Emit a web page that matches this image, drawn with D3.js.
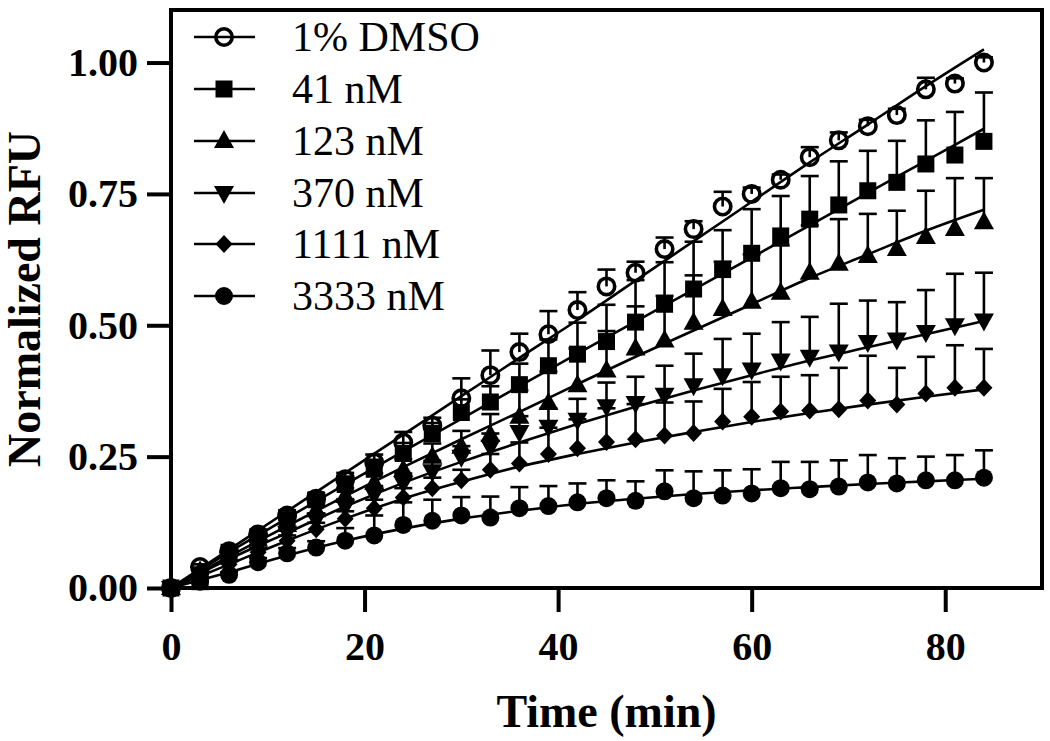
<!DOCTYPE html>
<html><head><meta charset="utf-8">
<script src="https://cdn.jsdelivr.net/npm/d3@7"></script>
<style>body{margin:0;background:#fff} svg{display:block}</style>
</head><body><svg id="c" width="1050" height="741"></svg>
<script>
// ---- data ----
const times = [0,3,6,9,12,15,18,21,24,27,30,33,36,39,42,45,48,51,54,57,60,63,66,69,72,75,78,81,84];
const seriesNames = ["1% DMSO","41 nM","123 nM","370 nM","1111 nM","3333 nM"];

const valDMSO = [0,0.04,0.07,0.102,0.138,0.17,0.207,0.239,0.277,0.309,0.361,0.405,0.449,0.483,0.529,0.574,0.6,0.645,0.683,0.726,0.75,0.777,0.82,0.852,0.879,0.9,0.949,0.96,1.0];
const errDMSO = [0,0.005,0.005,0.008,0.01,0.01,0.012,0.015,0.02,0.015,0.038,0.047,0.035,0.044,0.034,0.032,0.021,0.022,0.015,0.028,0.012,0.01,0.019,0.015,0.012,0.012,0.022,0.01,0.01];

const val41 = [0,0.012,0.068,0.098,0.13,0.168,0.197,0.226,0.256,0.294,0.334,0.354,0.387,0.423,0.445,0.469,0.506,0.54,0.569,0.606,0.637,0.67,0.702,0.729,0.756,0.772,0.807,0.824,0.85];
const err41 = [0,0.005,0.006,0.008,0.01,0.012,0.015,0.018,0.02,0.02,0.025,0.03,0.04,0.05,0.06,0.07,0.08,0.08,0.09,0.075,0.084,0.076,0.082,0.083,0.076,0.079,0.083,0.082,0.093];

const val123 = [0,0.032,0.063,0.092,0.12,0.148,0.175,0.2,0.225,0.25,0.269,0.291,0.326,0.352,0.386,0.414,0.456,0.471,0.505,0.531,0.545,0.562,0.6,0.617,0.632,0.645,0.668,0.683,0.696];
const err123 = [0,0.005,0.006,0.008,0.01,0.012,0.015,0.018,0.02,0.025,0.03,0.04,0.05,0.06,0.07,0.075,0.08,0.085,0.09,0.09,0.09,0.09,0.09,0.085,0.08,0.073,0.088,0.097,0.084];

const val370 = [0,0.028,0.055,0.08,0.105,0.13,0.155,0.178,0.2,0.222,0.25,0.269,0.297,0.307,0.32,0.346,0.352,0.368,0.386,0.405,0.416,0.433,0.44,0.45,0.468,0.473,0.487,0.5,0.509];
const err370 = [0,0.005,0.006,0.008,0.01,0.012,0.014,0.016,0.018,0.02,0.02,0.025,0.03,0.035,0.04,0.045,0.05,0.055,0.06,0.069,0.068,0.073,0.076,0.091,0.079,0.071,0.08,0.098,0.091];

const val1111 = [0,0.022,0.045,0.068,0.09,0.112,0.132,0.152,0.172,0.19,0.205,0.225,0.237,0.255,0.266,0.278,0.283,0.29,0.295,0.317,0.326,0.336,0.338,0.34,0.357,0.349,0.37,0.381,0.381];
const err1111 = [0,0.005,0.006,0.008,0.01,0.012,0.014,0.016,0.018,0.02,0.02,0.03,0.04,0.05,0.055,0.064,0.067,0.063,0.06,0.062,0.066,0.066,0.067,0.079,0.085,0.07,0.07,0.081,0.074];

const val3333 = [0,0.012,0.025,0.049,0.066,0.077,0.09,0.1,0.12,0.128,0.138,0.134,0.152,0.156,0.163,0.171,0.166,0.184,0.171,0.176,0.18,0.19,0.188,0.193,0.201,0.199,0.205,0.205,0.21];
const err3333 = [0,0.005,0.005,0.008,0.01,0.012,0.024,0.038,0.043,0.04,0.035,0.04,0.04,0.038,0.036,0.034,0.037,0.04,0.051,0.048,0.046,0.05,0.052,0.05,0.052,0.048,0.045,0.048,0.052];

// fitted curves, read at these times
const fitTimes = [0,6,12,18,24,30,36,42,48,54,60,66,72,78,84];
const fitDMSO = [0,0.073,0.146,0.219,0.292,0.365,0.438,0.51,0.585,0.66,0.735,0.81,0.882,0.955,1.025];
const fit41   = [0,0.068,0.133,0.197,0.26,0.322,0.384,0.446,0.507,0.568,0.629,0.69,0.752,0.813,0.874];
const fit123  = [0,0.06,0.118,0.175,0.23,0.283,0.335,0.388,0.44,0.49,0.54,0.59,0.635,0.68,0.72];
const fit370  = [0,0.055,0.105,0.155,0.2,0.24,0.277,0.312,0.345,0.376,0.405,0.433,0.458,0.483,0.508];
const fit1111 = [0,0.045,0.09,0.132,0.17,0.202,0.231,0.255,0.277,0.297,0.316,0.333,0.349,0.364,0.378];
const fit3333 = [0,0.03,0.062,0.09,0.113,0.132,0.147,0.16,0.17,0.179,0.186,0.192,0.198,0.203,0.208];

const xTicks = [0,20,40,60,80];
const yTicks = [0,0.25,0.5,0.75,1.0];
const xTitle = "Time (min)";
const yTitle = "Normalized RFU";

// ---- layout ----
const svg = d3.select("#c");
const L = 171, R = 1042, T = 10, B = 588;
const x = d3.scaleLinear().domain([0, 90]).range([L, R]);
const y = d3.scaleLinear().domain([0, 1.1]).range([B, T]);
const serif = "'Liberation Serif','Times New Roman',Times,serif";

const series = [
  {name: seriesNames[0], v: valDMSO, e: errDMSO, f: fitDMSO, m: "ocircle"},
  {name: seriesNames[1], v: val41, e: err41, f: fit41, m: "square"},
  {name: seriesNames[2], v: val123, e: err123, f: fit123, m: "tup"},
  {name: seriesNames[3], v: val370, e: err370, f: fit370, m: "tdown"},
  {name: seriesNames[4], v: val1111, e: err1111, f: fit1111, m: "diamond"},
  {name: seriesNames[5], v: val3333, e: err3333, f: fit3333, m: "fcircle"}
];

function marker(g, type, cx, cy) {
  if (type === "ocircle") {
    g.append("circle").attr("cx", cx).attr("cy", cy).attr("r", 8.2)
      .attr("fill", "none").attr("stroke", "#000").attr("stroke-width", 3.6);
  } else if (type === "fcircle") {
    g.append("circle").attr("cx", cx).attr("cy", cy).attr("r", 9).attr("fill", "#000");
  } else if (type === "square") {
    g.append("rect").attr("x", cx - 8.5).attr("y", cy - 8.5).attr("width", 17).attr("height", 17).attr("fill", "#000");
  } else if (type === "tup") {
    g.append("path").attr("d", `M${cx},${cy-11}L${cx+10},${cy+7}L${cx-10},${cy+7}Z`).attr("fill", "#000");
  } else if (type === "tdown") {
    g.append("path").attr("d", `M${cx},${cy+11}L${cx+10},${cy-7}L${cx-10},${cy-7}Z`).attr("fill", "#000");
  } else if (type === "diamond") {
    g.append("path").attr("d", `M${cx},${cy-9}L${cx+8.5},${cy}L${cx},${cy+9}L${cx-8.5},${cy}Z`).attr("fill", "#000");
  }
}

// fit lines
const line = d3.line().x(d => x(d[0])).y(d => y(d[1])).curve(d3.curveMonotoneX);
const gFit = svg.append("g");
series.forEach(s => {
  gFit.append("path").attr("d", line(fitTimes.map((t, i) => [t, s.f[i]])))
    .attr("fill", "none").attr("stroke", "#000").attr("stroke-width", 2.6);
});

// error bars (upper)
const gErr = svg.append("g").attr("stroke", "#000").attr("stroke-width", 2.6);
series.forEach(s => {
  times.forEach((t, i) => {
    if (s.e[i] <= 0) return;
    const cx = x(t), y0 = y(s.v[i]), y1 = y(s.v[i] + s.e[i]);
    gErr.append("line").attr("x1", cx).attr("x2", cx).attr("y1", y0).attr("y2", y1);
    gErr.append("line").attr("x1", cx - 9).attr("x2", cx + 9).attr("y1", y1).attr("y2", y1);
  });
});

// markers
const gM = svg.append("g");
series.slice().reverse().forEach(s => {
  times.forEach((t, i) => marker(gM, s.m, x(t), y(s.v[i])));
});

// axes
const ax = svg.append("g").attr("transform", `translate(0,${B})`)
  .call(d3.axisBottom(x).tickValues(xTicks).tickSize(24).tickPadding(20).tickSizeOuter(0));
const ay = svg.append("g").attr("transform", `translate(${L},0)`)
  .call(d3.axisLeft(y).tickValues(yTicks).tickFormat(d3.format(".2f")).tickSize(24).tickPadding(9).tickSizeOuter(0));
[ax, ay].forEach(a => {
  a.select(".domain").remove();
  a.selectAll(".tick line").attr("stroke", "#000").attr("stroke-width", 4);
  a.selectAll(".tick text").attr("fill", "#000").style("font-family", serif)
    .style("font-weight", "bold").style("font-size", "40px");
});

// frame
svg.append("rect").attr("x", L).attr("y", T).attr("width", R - L).attr("height", B - T)
  .attr("fill", "none").attr("stroke", "#000").attr("stroke-width", 4);

// titles
svg.append("text").attr("x", (L + R) / 2).attr("y", 727).attr("text-anchor", "middle")
  .style("font-family", serif).style("font-weight", "bold").style("font-size", "46px").text(xTitle);
svg.append("text").attr("transform", `translate(40,${(T + B) / 2}) rotate(-90)`).attr("text-anchor", "middle")
  .style("font-family", serif).style("font-weight", "bold").style("font-size", "46px").text(yTitle);

// legend
const legY = [37, 89, 141, 193, 244, 296];
const gL = svg.append("g");
series.forEach((s, i) => {
  const cy = legY[i];
  gL.append("line").attr("x1", 194).attr("x2", 255).attr("y1", cy).attr("y2", cy)
    .attr("stroke", "#000").attr("stroke-width", 2.6);
  marker(gL, s.m, 224, cy);
  gL.append("text").attr("x", 292).attr("y", cy + 14)
    .style("font-family", serif).style("font-size", "42px").text(s.name);
});
</script></body></html>
